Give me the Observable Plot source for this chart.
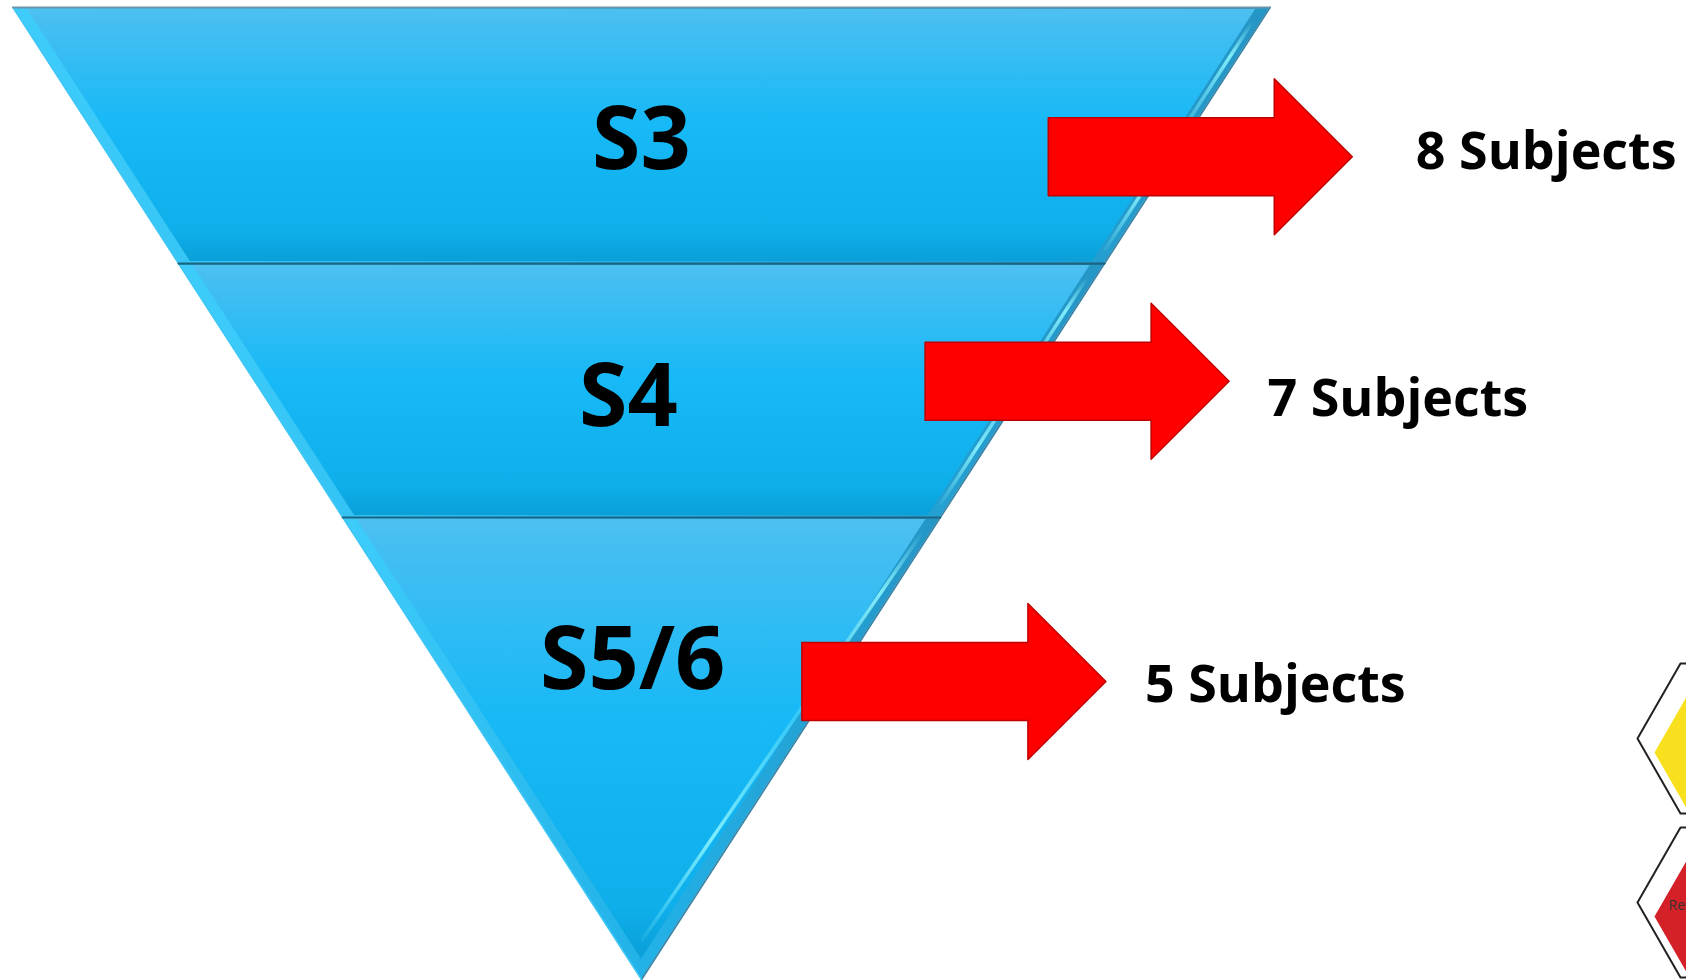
<!DOCTYPE html>
<html><head><meta charset="utf-8">
<script src="https://cdn.jsdelivr.net/npm/d3@7"></script>
<script src="https://cdn.jsdelivr.net/npm/@observablehq/plot@0.6"></script>
<style>html,body{margin:0;padding:0;background:#fff;overflow:hidden}</style>
</head><body><div id="chart"></div>
<script>
// ---- data ----
const stages = ["S3", "S4", "S5/6"];
const subjects = [8, 7, 5];
const subjectUnit = "Subjects";

// ---- layout (funnel units: u = half-width fraction, v = depth fraction) ----
const W = 1686, H = 980;
const CX = 641, HALF = 628.5, TOP = 7, DEPTH = 972;
const toU = px => (px - CX) / HALF, toV = py => (py - TOP) / DEPTH;
const du = p => p / HALF, dv = p => p / DEPTH;
const bounds = [0, 0.2634, 0.5247, 1];
const labelU = [0, -0.021, -0.014];
const labelV = [0.137, 0.402, 0.672];
const arrowLeft = [0.648, 0.452, 0.256];
const arrowMid = [0.154, 0.385, 0.694];
const textLeft = [1.232, 0.996, 0.801];
const textMid = [0.149, 0.403, 0.697];

const hw = v => Math.max(0, 1 - v);
const slant = Math.sqrt(1 + (HALF / DEPTH) ** 2);

function poly(vt, vb, side, topIn, botIn, isTri) {
  const t = vt + dv(topIn), h = du(side * slant);
  const b = isTri ? 1 - dv(side * slant * DEPTH / HALF) : vb - dv(botIn);
  return [
    {v: t, x1: -hw(t) + h, x2: hw(t) - h},
    {v: b, x1: isTri ? 0 : -hw(b) + h, x2: isTri ? 0 : hw(b) - h}
  ];
}

const marks = [];
stages.forEach((s, i) => {
  const vt = bounds[i], vb = bounds[i + 1], tri = i === stages.length - 1;
  marks.push(Plot.areaX(poly(vt, vb, 0, 0, 0, tri), {y: "v", x1: "x1", x2: "x2", fill: "url(#edgeGrad)", curve: "linear"}));
  marks.push(Plot.areaX(poly(vt, vb, 11, 2, 2, tri), {y: "v", x1: "x1", x2: "x2", fill: "url(#secGrad)", curve: "linear"}));
  // right highlight streak
  const a = vt + dv(14), b = tri ? 1 - dv(40) : vb - dv(14);
  const off = du(7 * slant);
  marks.push(Plot.line([{v: a, u: hw(a) - off}, {v: b, u: tri ? du(1) : hw(b) - off}],
    {x: "u", y: "v", stroke: "url(#hlGrad)", strokeWidth: 3.5}));
  // outer edges
  marks.push(Plot.line([{v: vt, u: hw(vt)}, {v: vb, u: hw(vb)}],
    {x: "u", y: "v", stroke: "#3b86a8", strokeWidth: 1.8}));
  marks.push(Plot.line([{v: vt, u: -hw(vt)}, {v: vb, u: -hw(vb)}],
    {x: "u", y: "v", stroke: "#3fc6f5", strokeWidth: 1.5}));
  // top edge line
  marks.push(Plot.line([{v: vt, u: -hw(vt)}, {v: vt, u: hw(vt)}],
    {x: "u", y: "v", stroke: i === 0 ? "#6a94a8" : "#1d6482", strokeWidth: i === 0 ? 2 : 2.2}));
});

// stage labels
marks.push(Plot.text(stages, {
  x: (d, i) => labelU[i], y: (d, i) => labelV[i], text: d => d,
  fontSize: 88, fontWeight: 700, fontFamily: "Open Sans", fill: "#000"
}));

// arrows
const bodyLen = 226, headLen = 78, bodyH = 39, headH = 78;
subjects.forEach((n, i) => {
  const L = arrowLeft[i], M = arrowMid[i];
  const Hb = L + du(bodyLen), T = Hb + du(headLen);
  const pts = [
    {x: L, y1: M - dv(bodyH), y2: M + dv(bodyH)},
    {x: Hb, y1: M - dv(bodyH), y2: M + dv(bodyH)},
    {x: Hb, y1: M - dv(headH), y2: M + dv(headH)},
    {x: T, y1: M, y2: M}
  ];
  marks.push(Plot.areaY(pts, {x: "x", y1: "y1", y2: "y2", fill: "#ff0000", stroke: "#c00000", strokeWidth: 1.5, curve: "linear"}));
});

// subject labels
marks.push(Plot.text(subjects, {
  x: (d, i) => textLeft[i], y: (d, i) => textMid[i], text: d => `${d} ${subjectUnit}`,
  textAnchor: "start", fontSize: 52, fontWeight: 700, fontFamily: "Open Sans", fill: "#000"
}));

// decorative partial hexagons at the right edge
const hexes = [
  {top: 663, fill: "#f9e01e", label: ""},
  {top: 827, fill: "#d42027", label: "Re"}
];
hexes.forEach(h => {
  const mid = h.top + 75;
  const outline = [[1700, h.top], [1680, h.top], [1637, mid], [1680, mid + 75], [1700, mid + 75]]
    .map(([x, y]) => ({u: toU(x), v: toV(y)}));
  const inner = [[1700, mid + 14 - 80], [1654, mid + 14], [1700, mid + 14 + 80]]
    .map(([x, y]) => ({u: toU(x), v: toV(y)}));
  marks.push(Plot.line(inner, {x: "u", y: "v", fill: h.fill, stroke: "none"}));
  marks.push(Plot.line(outline, {x: "u", y: "v", stroke: "#222", strokeWidth: 2}));
  if (h.label) marks.push(Plot.text([h.label], {x: toU(1668), y: toV(mid + 3), text: d => d, textAnchor: "start", fontSize: 14, fontFamily: "Open Sans", fill: "#333"}));
});

const chart = Plot.plot({
  width: W, height: H, margin: 0,
  x: {domain: [toU(0), toU(W)], range: [0, W], axis: null},
  y: {domain: [toV(0), toV(H)], range: [0, H], axis: null},
  style: {background: "#fff", overflow: "hidden"},
  marks
});

// gradients
const defs = d3.select(chart).insert("defs", ":first-child");
const sec = defs.append("linearGradient").attr("id", "secGrad").attr("x1", 0).attr("y1", 0).attr("x2", 0).attr("y2", 1);
[[0, "#4ec0f0"], [0.06, "#45bef2"], [0.45, "#17b9f6"], [0.88, "#0eafeb"], [1, "#0a9fd8"]]
  .forEach(([o, c]) => sec.append("stop").attr("offset", o).attr("stop-color", c));
const edge = defs.append("linearGradient").attr("id", "edgeGrad").attr("x1", 0).attr("y1", 0).attr("x2", 1).attr("y2", 0);
[[0, "#3ecdfb"], [0.5, "#22b2e8"], [1, "#2496c6"]]
  .forEach(([o, c]) => edge.append("stop").attr("offset", o).attr("stop-color", c));
const hl = defs.append("linearGradient").attr("id", "hlGrad").attr("gradientUnits", "objectBoundingBox")
  .attr("x1", 0).attr("y1", 0).attr("x2", 0).attr("y2", 1);
[[0, "#8af4ff", 0], [0.15, "#8af4ff", 0.9], [0.45, "#6fe6fb", 0.35], [0.75, "#8af4ff", 0.9], [1, "#8af4ff", 0.1]]
  .forEach(([o, c, a]) => hl.append("stop").attr("offset", o).attr("stop-color", c).attr("stop-opacity", a));

document.getElementById("chart").appendChild(chart);
</script>
</body></html>
